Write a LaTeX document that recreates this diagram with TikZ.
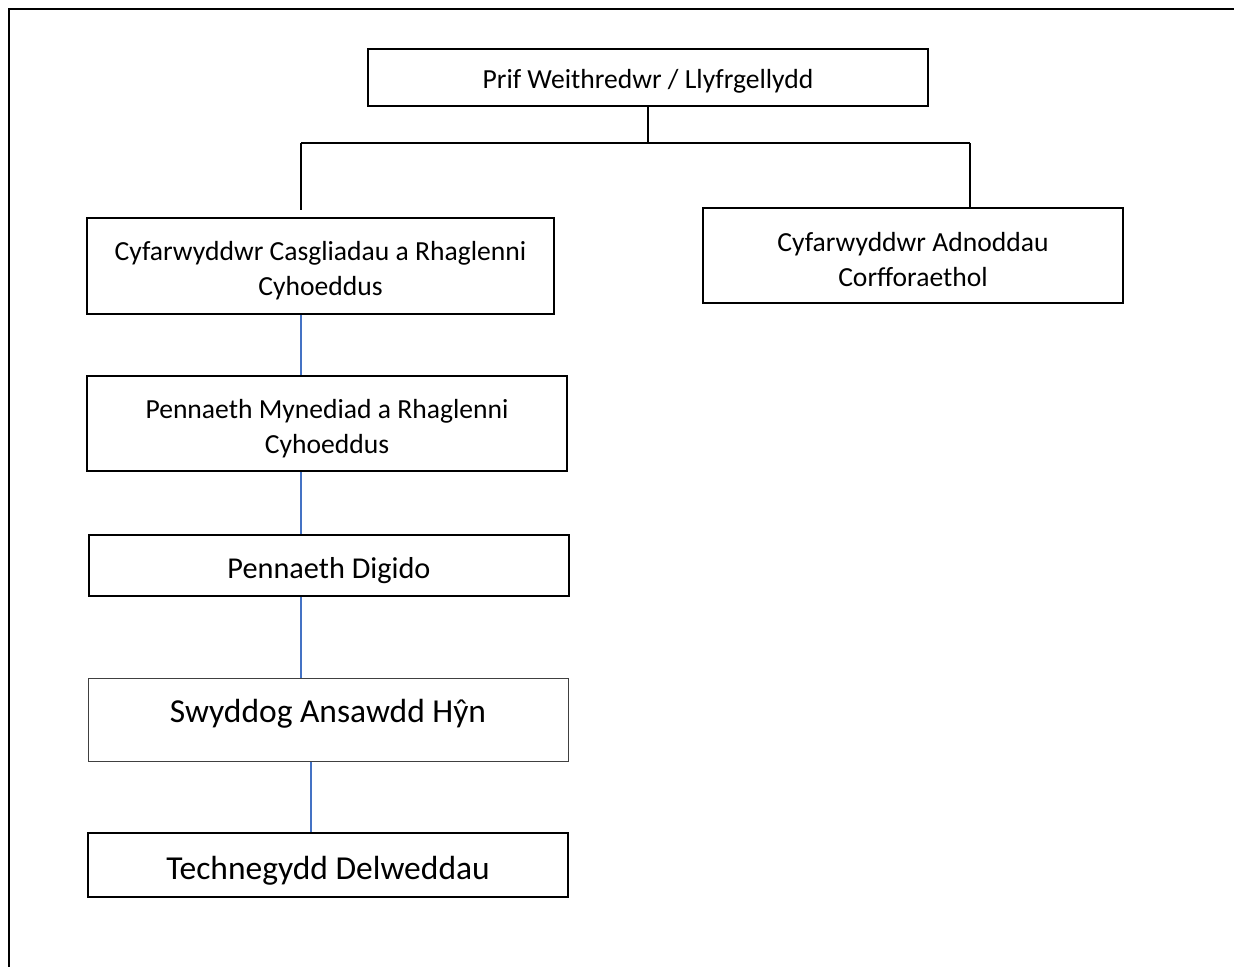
\documentclass[tikz,border=0pt]{standalone}
\usepackage{fontspec}
\setmainfont{Carlito}
\newcommand{\hpad}[1]{\rule{0pt}{#1}}
\newcommand{\dpad}[1]{\rule[-#1]{0pt}{#1}}
\begin{document}
\begin{tikzpicture}[x=1pt,y=-1pt,
  box/.style={draw=black,line width=2pt,rectangle,inner sep=0pt,align=center,font=\fontsize{27.6}{35}\selectfont},
  bigbox/.style={box,font=\fontsize{33.5}{40}\selectfont},
  thinbox/.style={bigbox,draw=black!75,line width=1pt},
  conn/.style={draw=black,line width=2pt},
  blueline/.style={line width=1.6pt,color={rgb,255:red,68;green,114;blue,196}}
]
\useasboundingbox (0,0) rectangle (1234,967);
\fill[white] (0,0) rectangle (1234,967);
\draw[line width=2.5pt] (1234,9) -- (9,9) -- (9,967);

\node[box,minimum width=560pt,minimum height=57pt] (top) at (648,77.5) {\hpad{27pt}Prif Weithredwr / Llyfrgellydd};
\node[box,minimum width=467pt,minimum height=96pt] (c1) at (320.5,266) {\hpad{29pt}Cyfarwyddwr Casgliadau a Rhaglenni\\Cyhoeddus};
\node[box,minimum width=420pt,minimum height=95pt] (c2) at (913,255.5) {\hpad{28pt}Cyfarwyddwr Adnoddau\\Corfforaethol};
\node[box,minimum width=480pt,minimum height=95pt] (p1) at (327,423.5) {\hpad{29pt}Pennaeth Mynediad a Rhaglenni\\Cyhoeddus};
\node[bigbox,minimum width=480pt,minimum height=61pt,font=\fontsize{30.3}{36}\selectfont] (p2) at (329,565.5) {\hpad{31pt}Pennaeth Digido};
\node[thinbox,minimum width=480pt,minimum height=83pt] (s) at (328,719.5) {\dpad{17pt}Swyddog Ansawdd Hŷn};
\node[bigbox,minimum width=480pt,minimum height=64pt] (t) at (328,865) {\hpad{35pt}Technegydd Delweddau};

\coordinate (bl) at (301,143);
\coordinate (br) at (970,143);
\coordinate (ld) at (301,210);
\coordinate (xa) at (301,0);
\coordinate (xb) at (311,0);

\draw[conn] (top.south) -- (top.south |- bl);
\draw[conn] (bl) -- (br);
\draw[conn] (bl) -- (ld);
\draw[conn] (br) -- (br |- c2.north);

\draw[blueline] (c1.south -| xa) -- (p1.north -| xa);
\draw[blueline] (p1.south -| xa) -- (p2.north -| xa);
\draw[blueline] (p2.south -| xa) -- (s.north -| xa);
\draw[blueline] (s.south -| xb) -- (t.north -| xb);
\end{tikzpicture}
\end{document}
